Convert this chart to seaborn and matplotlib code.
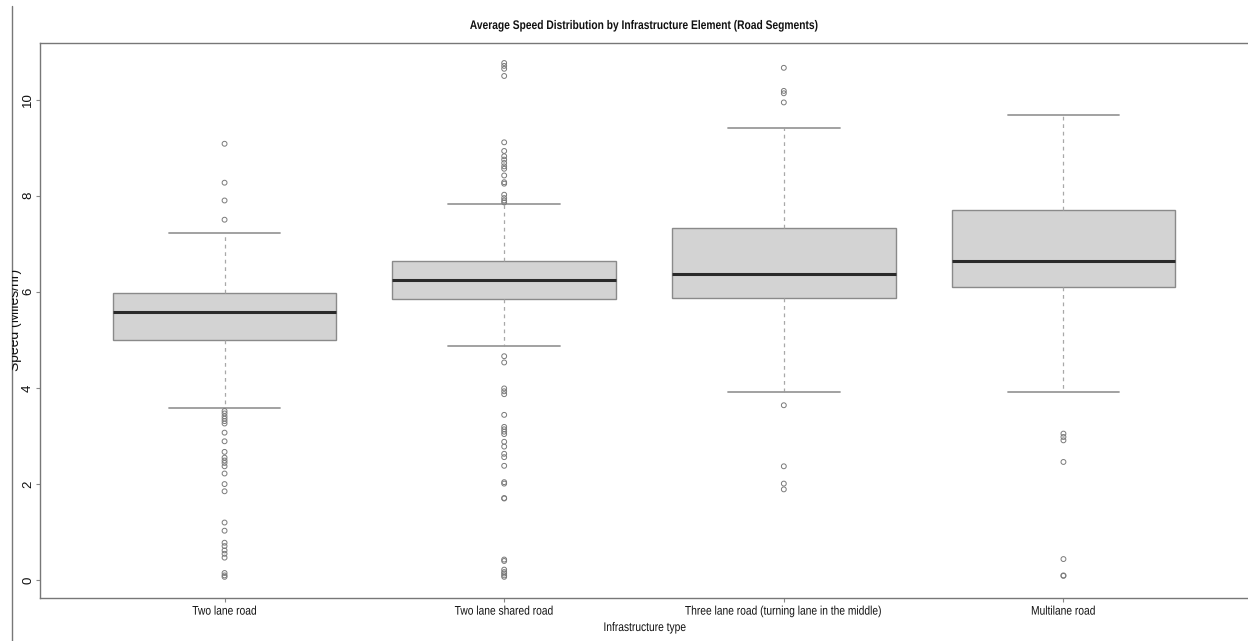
import numpy as np
import pandas as pd
import matplotlib
matplotlib.use("Agg")
import matplotlib.pyplot as plt
from matplotlib.lines import Line2D
from matplotlib.transforms import Affine2D, Bbox, TransformedBbox
from matplotlib.patheffects import AbstractPathEffect
import seaborn as sns

# Infrastructure categories
categories = [
    "Two lane road",
    "Two lane shared road",
    "Three lane road (turning lane in the middle)",
    "Multilane road",
]

# Five-number summaries per category (miles/hr)
whisker_low = [3.58, 4.88, 3.91, 3.92]
q1 = [5.00, 5.85, 5.87, 6.11]
median = [5.59, 6.24, 6.38, 6.65]
q3 = [5.97, 6.64, 7.33, 7.70]
whisker_high = [7.23, 7.82, 9.40, 9.67]

# Outlying segments per category
outliers_two_lane = [9.08, 8.27, 7.90, 7.50, 3.52, 3.47, 3.41, 3.36, 3.31, 3.26,
                     3.07, 2.89, 2.67, 2.55, 2.49, 2.44, 2.37, 2.22, 2.00, 1.85,
                     1.20, 1.03, 0.78, 0.71, 0.62, 0.55, 0.47, 0.15, 0.10, 0.07]
outliers_shared = [10.76, 10.70, 10.64, 10.49, 9.11, 8.93, 8.82, 8.75, 8.68, 8.61,
                   8.56, 8.42, 8.28, 8.25, 8.02, 7.95, 7.90, 7.86, 4.66, 4.53,
                   3.99, 3.93, 3.87, 3.44, 3.19, 3.14, 3.09, 3.04, 2.88, 2.78,
                   2.63, 2.56, 2.38, 2.04, 2.01, 1.71, 1.70, 0.43, 0.40, 0.22,
                   0.17, 0.14, 0.10, 0.07]
outliers_three_lane = [10.66, 10.18, 10.13, 9.94, 3.64, 2.37, 2.01, 1.89]
outliers_multilane = [3.05, 2.98, 2.91, 2.46, 0.44, 0.10, 0.09]

y_ticks = [0, 2, 4, 6, 8, 10]

# Long-form tables for seaborn
box_rows = []
for i, cat in enumerate(categories):
    for v in (whisker_low[i], q1[i], median[i], q3[i], whisker_high[i]):
        box_rows.append({"infra": cat, "speed": v})
box_df = pd.DataFrame(box_rows)

out_lists = [outliers_two_lane, outliers_shared, outliers_three_lane, outliers_multilane]
out_df = pd.DataFrame(
    [{"infra": cat, "speed": v} for cat, vals in zip(categories, out_lists) for v in vals]
)


class Condense(AbstractPathEffect):
    """Squeeze a text path horizontally about its own centre (narrow face)."""

    def __init__(self, factor=0.82):
        super().__init__()
        self.factor = factor

    def draw_path(self, renderer, gc, tpath, affine, rgbFace=None):
        ext = tpath.transformed(affine).get_extents()
        cx = 0.5 * (ext.x0 + ext.x1)
        squeeze = Affine2D().translate(-cx, 0).scale(self.factor, 1).translate(cx, 0)
        renderer.draw_path(gc, tpath, affine + squeeze, rgbFace)


sns.set_theme(style="white")
regular = ["Liberation Sans", "DejaVu Sans"]
plt.rcParams["font.family"] = regular
narrow_fx = [Condense(0.82)]

W, H = 1248, 641
fig = plt.figure(figsize=(W / 100, H / 100), dpi=100)
ax = fig.add_axes([40 / W, 43 / H, 1 - 40 / W, (598 - 43.3) / H])

sns.boxplot(
    data=box_df, x="infra", y="speed", order=categories, ax=ax,
    whis=(0, 100), showfliers=False, width=0.8, color="#D3D3D3", saturation=1,
    linecolor="#8a8a8a", linewidth=1.0,
    medianprops=dict(color="#2a2a2a", linewidth=2.2),
    whiskerprops=dict(color="#a8a8a8", linewidth=0.9, linestyle=(0, (3, 3))),
    capprops=dict(color="#9a9a9a", linewidth=1.3),
)

sns.stripplot(
    data=out_df, x="infra", y="speed", order=categories, ax=ax,
    jitter=False, marker="o", size=3.5, color="#7a7a7a",
    facecolor="none", edgecolor="#7a7a7a", linewidth=0.7,
)

ax.set_xlim(-0.66, 3.66)
ax.set_ylim(-0.37, 11.17)
ax.set_yticks(y_ticks)
ax.set_yticklabels([str(t) for t in y_ticks], rotation=90, va="center", fontsize=9.5)
ax.set_xticks(range(len(categories)))
ax.set_xticklabels(categories, fontsize=9)
for lab in ax.get_xticklabels():
    lab.set_path_effects(narrow_fx)
ax.set_xlabel("")
ax.set_ylabel("")

ax.tick_params(axis="both", which="major", length=3, width=0.8, color="#888888",
               labelcolor="#111111", left=True, bottom=True)
ax.tick_params(axis="y", pad=1.2)
ax.tick_params(axis="x", pad=2.5)
for side in ("left", "top", "bottom"):
    ax.spines[side].set_color("#777777")
    ax.spines[side].set_linewidth(1.0)
ax.spines["right"].set_visible(False)

# Titles and axis labels
fig.text(644 / W, 1 - 26 / H,
         "Average Speed Distribution by Infrastructure Element (Road Segments)",
         ha="center", va="center", fontsize=9, fontweight="bold", color="#111111",
         path_effects=narrow_fx)
fig.text(645 / W, 1 - 628 / H, "Infrastructure type", ha="center", va="center",
         fontsize=9, color="#111111", path_effects=narrow_fx)
ylab = fig.text(22.5 / W, 1 - 320 / H, "Speed (Miles/hr)", rotation=90,
                ha="right", va="center", fontsize=10, color="#111111")
ylab.set_clip_box(TransformedBbox(Bbox([[12 / W, 0], [1, 1]]), fig.transFigure))
ylab.set_clip_on(True)

# Outer panel edge on the left
fig.add_artist(Line2D([12 / W, 12 / W], [0, 1 - 6 / H], transform=fig.transFigure,
                      color="#777777", linewidth=1.0))

fig.savefig("out.png", dpi=100)
